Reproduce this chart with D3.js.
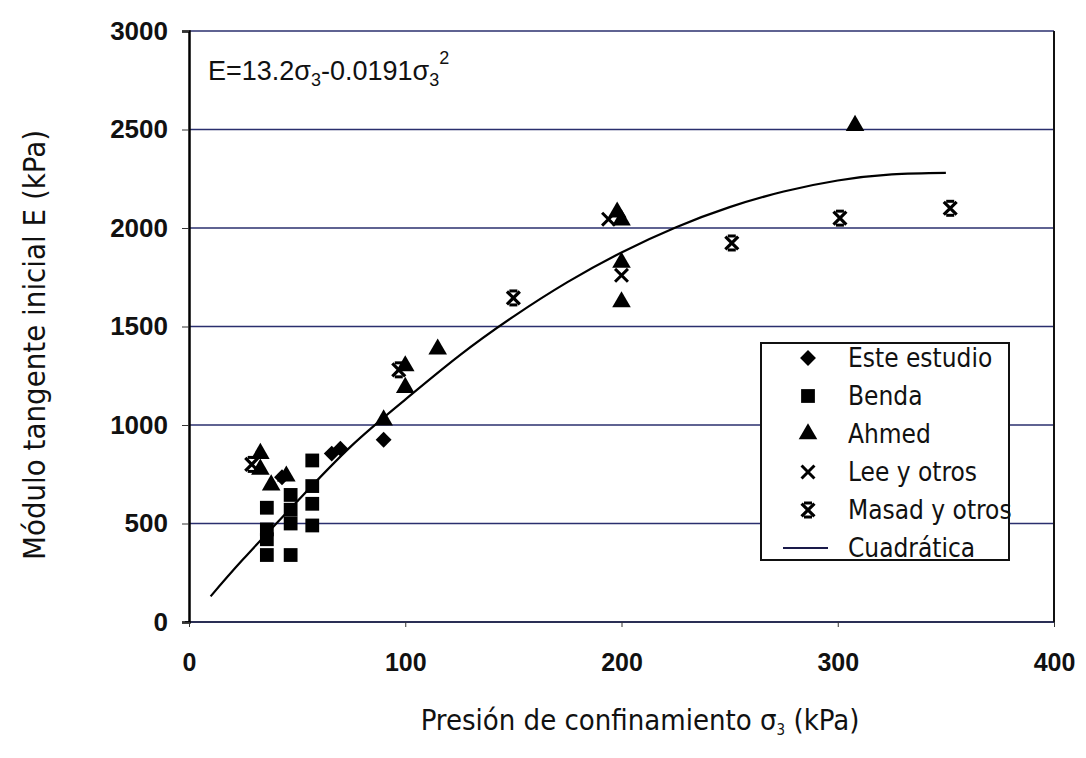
<!DOCTYPE html>
<html><head><meta charset="utf-8">
<script src="https://cdn.jsdelivr.net/npm/d3@7"></script>
<style>body{margin:0;background:#fff}</style>
</head><body>
<script>
const xTicks = [0,100,200,300,400];
const yTicks = [0,500,1000,1500,2000,2500,3000];
const esteX = [90, 66, 70, 43];
const esteY = [925, 855, 880, 735];
const bendaX = [36,36,36,36,47,47,47,47,57,57,57,57];
const bendaY = [580,470,420,340,645,570,500,340,820,690,600,490];
const ahmedX = [33,33,38,45,90,100,100,115,198,200,200,200,308];
const ahmedY = [855,775,695,740,1025,1190,1300,1385,2080,2040,1825,1625,2520];
const leeX = [194,200];
const leeY = [2045,1760];
const masadX = [29,97,150,251,301,352];
const masadY = [800,1280,1645,1924,2050,2100];
const curveX = [10,25,50,75,100,125,150,175,200,225,250,275,300,325,350];
const curveY = [130,318,612,893,1129,1352,1550,1725,1876,2003,2106,2185,2241,2272,2280];
const legendLabels = ["Este estudio","Benda","Ahmed","Lee y otros","Masad y otros","Cuadrática"];

const W=1086,H=758;
const svg=d3.select("body").append("svg").attr("width",W).attr("height",H);
const x=d3.scaleLinear().domain([0,400]).range([189,1054]);
const y=d3.scaleLinear().domain([0,3000]).range([622,31]);
const labelFont="DejaVu Sans Condensed, DejaVu Sans, sans-serif";

// gridlines
svg.append("g").selectAll("line").data(yTicks.filter(d=>d>0)).join("line")
  .attr("x1",x(0)).attr("x2",x(400)).attr("y1",d=>y(d)).attr("y2",d=>y(d))
  .attr("stroke","#2a2f6e").attr("stroke-width",1.3);
svg.append("line").attr("x1",x(0)-4).attr("x2",x(400)).attr("y1",y(0)).attr("y2",y(0)).attr("stroke","#2a2f55").attr("stroke-width",2);
svg.append("line").attr("x1",x(400)).attr("x2",x(400)).attr("y1",y(3000)).attr("y2",y(0)).attr("stroke","#111").attr("stroke-width",2);

// y axis
const ya=svg.append("g").attr("transform",`translate(${x(0)},0)`)
  .call(d3.axisLeft(y).tickValues(yTicks).tickFormat(d3.format("d")).tickSize(7).tickPadding(14));
ya.select(".domain").attr("stroke","#000").attr("stroke-width",2.5);
ya.selectAll(".tick line").attr("stroke","#333");
ya.selectAll("text").attr("font-family","Liberation Sans, Arial, sans-serif").attr("font-weight","bold").attr("font-size",26).attr("fill","#111");
// x axis
const xa=svg.append("g").attr("transform",`translate(0,${y(0)})`)
  .call(d3.axisBottom(x).tickValues(xTicks).tickFormat(d3.format("d")).tickSize(5).tickPadding(26));
xa.select(".domain").remove();
xa.selectAll(".tick line").attr("stroke","#333");
xa.selectAll("text").attr("font-family","Liberation Sans, Arial, sans-serif").attr("font-weight","bold").attr("font-size",25).attr("fill","#111");

// curve
const line=d3.line().x((d,i)=>x(curveX[i])).y((d,i)=>y(curveY[i])).curve(d3.curveNatural);
svg.append("path").attr("d",line(curveX)).attr("fill","none").attr("stroke","#000").attr("stroke-width",2.2);

// symbols
const sym={
  diamond:d3.symbol().type(d3.symbolDiamond2).size(160),
  square:d3.symbol().type(d3.symbolSquare).size(190),
  triangle:d3.symbol().type(d3.symbolTriangle).size(150),
  cross:d3.symbol().type(d3.symbolX).size(110),
};
function drawMark(g,kind,t){
  if(kind==="lee"){
    g.append("path").attr("d",sym.cross()).attr("transform",t).attr("stroke","#000").attr("stroke-width",3).attr("fill","none");
  } else if(kind==="masad"){
    g.append("path").attr("d",sym.cross()).attr("transform",t).attr("stroke","#000").attr("stroke-width",3.2).attr("fill","none");
    g.append("line").attr("transform",t).attr("x1",-4).attr("x2",4).attr("y1",-7).attr("y2",-7).attr("stroke","#000").attr("stroke-width",3);
    g.append("line").attr("transform",t).attr("x1",-4).attr("x2",4).attr("y1",7).attr("y2",7).attr("stroke","#000").attr("stroke-width",3);
  } else {
    g.append("path").attr("d",sym[kind]()).attr("transform",t).attr("fill","#000");
  }
}
function pts(xs,ys,kind){
  const g=svg.append("g");
  xs.forEach((xv,i)=>drawMark(g,kind,`translate(${x(xv)},${y(ys[i])})`));
}
pts(bendaX,bendaY,"square");
pts(esteX,esteY,"diamond");
pts(ahmedX,ahmedY,"triangle");
pts(leeX,leeY,"lee");
pts(masadX,masadY,"masad");

// equation
const eq=svg.append("text").attr("x",208).attr("y",80).attr("font-family","Liberation Sans, Arial, sans-serif").attr("font-size",27).attr("fill","#111");
eq.append("tspan").text("E=13.2σ");
eq.append("tspan").attr("font-size",18).attr("dy",6).text("3");
eq.append("tspan").attr("dy",-6).text("-0.0191σ");
eq.append("tspan").attr("font-size",18).attr("dy",6).text("3");
eq.append("tspan").attr("font-size",18).attr("dy",-22).text("2");

// legend
const lg=svg.append("g");
lg.append("rect").attr("x",761).attr("y",343).attr("width",248).attr("height",217).attr("fill","#fff").attr("stroke","#111").attr("stroke-width",2);
const kinds=["diamond","square","triangle","lee","masad","line"];
legendLabels.forEach((lab,i)=>{
  const yy=358+i*38;
  const k=kinds[i];
  if(k==="line"){
    lg.append("line").attr("x1",783).attr("x2",828).attr("y1",yy).attr("y2",yy).attr("stroke","#1a1a4a").attr("stroke-width",2);
  } else {
    drawMark(lg,k,`translate(808,${yy})`);
  }
  lg.append("text").attr("x",848).attr("y",yy+9).attr("font-family",labelFont).attr("font-size",26).attr("fill","#111").text(lab);
});

// axis titles
svg.append("text").attr("transform","translate(45,345) rotate(-90)").attr("text-anchor","middle")
  .attr("font-family",labelFont).attr("font-size",31).attr("fill","#111")
  .attr("textLength",430).attr("lengthAdjust","spacingAndGlyphs")
  .text("Módulo tangente inicial E (kPa)");
const xt=svg.append("text").attr("x",640).attr("y",730).attr("text-anchor","middle")
  .attr("font-family",labelFont).attr("font-size",29).attr("fill","#111");
xt.append("tspan").text("Presión de confinamiento σ");
xt.append("tspan").attr("font-size",15).attr("dy",5).text("3");
xt.append("tspan").attr("dy",-5).text(" (kPa)");
</script>
</body></html>
